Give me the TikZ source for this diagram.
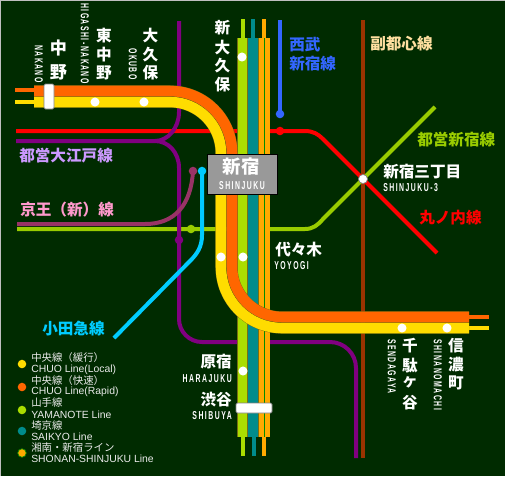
\documentclass[tikz,border=0pt]{standalone}
\usepackage{fontspec}
\newfontfamily\cjk{Noto Sans CJK JP}
\newfontfamily\latin[FakeStretch=.6,LetterSpace=13]{Liberation Sans}
\newfontfamily\legendlatin{Liberation Sans}
\definecolor{bgcolor}{RGB}{0,43,0}
\definecolor{chuolocal}{RGB}{255,220,0}
\definecolor{chuorapid}{RGB}{255,102,0}
\definecolor{yamanote}{RGB}{170,221,0}
\definecolor{saikyo}{RGB}{0,140,140}
\definecolor{shonan}{RGB}{255,170,0}
\definecolor{shonanmid}{RGB}{0,140,0}
\definecolor{trunkedge}{RGB}{120,110,20}
\definecolor{oedo}{RGB}{128,0,128}
\definecolor{fukutoshin}{RGB}{153,51,0}
\definecolor{seibu}{RGB}{51,102,255}
\definecolor{keio}{RGB}{153,51,102}
\definecolor{odakyu}{RGB}{0,204,255}
\definecolor{toeishinjuku}{RGB}{153,204,0}
\definecolor{fukutoshintext}{RGB}{255,224,160}
\definecolor{oedotext}{RGB}{204,153,255}
\definecolor{keiotext}{RGB}{255,153,204}
\tikzset{
  trunk/.style={
    draw=#1,
    line width=7.9pt,
    preaction={draw=trunkedge, line width=8.4pt}
  },
  stub/.style={
    draw=#1,
    line width=3pt
  },
  thinline/.style={
    draw=#1,
    line width=3pt
  },
  linedot/.style={
    circle,
    fill=#1,
    inner sep=0pt,
    minimum size=6.4pt
  },
  station/.style={
    circle,
    fill=white,
    inner sep=0pt,
    minimum size=6.8pt
  },
  jplabel/.style={
    font=\cjk\bfseries\fontsize{11.7}{14}\selectfont,
    text=#1,
    inner sep=0pt
  },
  jplabel/.default=white,
  enlabel/.style={
    font=\latin\bfseries\fontsize{8.6}{10}\selectfont,
    text=white,
    inner sep=0pt,
    text height=6.2pt,
    text depth=0pt
  },
  legendjp/.style={
    font=\cjk\fontsize{7.8}{9}\selectfont,
    text=white!92!black,
    inner sep=0pt,
    anchor=west
  },
  legenden/.style={
    font=\legendlatin\fontsize{7.8}{9}\selectfont,
    text=white!92!black,
    inner sep=0pt,
    anchor=west
  },
  stationbar/.style={
    rectangle,
    fill=white,
    draw=gray,
    line width=0.6pt,
    rounded corners=1pt,
    inner sep=0pt
  }
}
\begin{document}
\begin{tikzpicture}[x=0.75pt, y=-0.75pt]
    \useasboundingbox (0,0) rectangle (505,476);
    \fill[bgcolor] (0,0) rectangle (505,476);
    \fill[gray!50] (0,0) rectangle (505,1);
    \fill[gray!50] (0,0) rectangle (1,476);

    % thin lines under the trunks
    \draw[thinline=fukutoshin] (363,20) -- (363,458);
    \draw[thinline=red] (16,131) -- (305,131) .. controls (313,131) and (318,134) .. (323,139) -- (437,253);
    \draw[thinline=toeishinjuku] (17,229) -- (305,229) .. controls (313,229) and (318,225) .. (323,219) -- (435,107);
    \draw[thinline=oedo] (179,21) -- (179,112) .. controls (179,128) and (168,141) .. (155,141) -- (16,141);
    \draw[thinline=oedo] (155,141) .. controls (168,141) and (179,152) .. (179,168) -- (179,319)
      arc[start angle=180, end angle=90, radius=23] -- (330,342)
      arc[start angle=-90, end angle=0, radius=26] -- (356,458);
    \draw[thinline=keio] (17,224) -- (145,224) .. controls (175,224) and (191,205) .. (193,171);
    \draw[thinline=odakyu] (202,171) -- (202,235) .. controls (202,247) and (197,254) .. (190,261) -- (114,338);
    \draw[thinline=seibu] (280,20) -- (280,114);

    % vertical trunks
    \draw[stub=yamanote] (242.5,19) -- (242.5,38);
    \draw[stub=saikyo] (253,19) -- (253,38);
    \draw[stub=shonan] (264,19) -- (264,38);
    \draw[stub=yamanote] (243,437) -- (243,456);
    \draw[stub=saikyo] (254,437) -- (254,456);
    \draw[stub=shonan] (264,437) -- (264,456);
    \draw[trunk=yamanote] (243,38) -- (243,437);
    \draw[trunk=saikyo] (253,38) -- (253,437);
    \draw[trunk=shonan] (264.5,38) -- (264.5,437);
    \draw[shonanmid, line width=1.2pt] (264.5,38) -- (264.5,437);

    % chuo lines
    \draw[stub=chuorapid] (15,90) -- (34,90);
    \draw[stub=chuolocal] (15,102) -- (34,102);
    \draw[stub=chuorapid] (469,317) -- (489,317);
    \draw[stub=chuolocal] (469,328) -- (489,328);
    \draw[trunk=chuolocal] (34,102) -- (170,102) arc[start angle=-90, end angle=0, radius=51]
      -- (221,267) arc[start angle=180, end angle=90, radius=61] -- (469,328);
    \draw[trunk=chuorapid] (34,91) -- (170,91) arc[start angle=-90, end angle=0, radius=62]
      -- (232,267) arc[start angle=180, end angle=90, radius=50] -- (469,317);

    % dots and bars
    \node[linedot=seibu] (seibudot) at (280,114) {};
    \node[linedot=red] (reddot) at (280,131) {};
    \node[linedot=toeishinjuku] (toeidot) at (191,229) {};
    \node[linedot=oedo] (oedodot) at (179,240) {};
    \node[linedot=keio] (keiodot) at (193,171) {};
    \node[linedot=odakyu] (odakyudot) at (202,171) {};
    \foreach \x/\y [count=\i] in {242/57, 95/102, 144/102, 221/257, 243/257, 243/371, 402/328, 447/328} {
      \node[station] (st\i) at (\x,\y) {};
    }
    \node[station, draw=gray, line width=0.5pt] (sanchome) at (363,179) {};
    \node[stationbar, minimum width=7.5pt, minimum height=18.75pt] (nakanobar) at (49,96.5) {};
    \node[stationbar, minimum width=27pt, minimum height=7.5pt] (shibuyabar) at (254,408) {};

    % shinjuku box
    \node[rectangle, fill=gray!80, draw=black, line width=0.75pt, minimum width=52.5pt, minimum height=30.5pt] (shinjukubox) at (242.5,174.5) {};
    \node[jplabel, font=\cjk\bfseries\fontsize{13.8}{16}\selectfont] (shinjukujp) at (241,167) {新宿};
    \node[enlabel] (shinjukuen) at (242,185) {SHINJUKU};

    % vertical station names
    \foreach \ch/\y [count=\i] in {中/48, 野/72} {
      \node[jplabel, font=\cjk\bfseries\fontsize{12.8}{15}\selectfont] (nakano\i) at (58.5,\y) {\ch};
    }
    \foreach \ch/\y [count=\i] in {東/36, 中/55, 野/73} {
      \node[jplabel] (higashi\i) at (104,\y) {\ch};
    }
    \foreach \ch/\y [count=\i] in {大/36, 久/55, 保/73} {
      \node[jplabel] (okubo\i) at (150.5,\y) {\ch};
    }
    \foreach \ch/\y [count=\i] in {新/28, 大/48, 久/66, 保/85} {
      \node[jplabel] (shinokubo\i) at (222.5,\y) {\ch};
    }
    \foreach \ch/\y [count=\i] in {千/346, 駄/366, ヶ/382, 谷/403} {
      \node[jplabel] (sendagaya\i) at (410,\y) {\ch};
    }
    \foreach \ch/\y [count=\i] in {信/346, 濃/365, 町/383} {
      \node[jplabel] (shinano\i) at (456,\y) {\ch};
    }
    \node[enlabel, rotate=-90, anchor=east] (nakanoen) at (39,83) {NAKANO};
    \node[enlabel, rotate=-90, anchor=east] (higashien) at (85,84) {HIGASHI-NAKANO};
    \node[enlabel, rotate=-90, anchor=east] (okuboen) at (133,80) {OKUBO};
    \node[enlabel, rotate=-90, anchor=west] (sendagayaen) at (392,339) {SENDAGAYA};
    \node[enlabel, rotate=-90, anchor=west] (shinanoen) at (438,339) {SHINANOMACHI};

    % horizontal station names
    \node[jplabel, anchor=west] (sanchomejp) at (383,171.5) {新宿三丁目};
    \node[enlabel, anchor=west] (sanchomeen) at (383,187) {SHINJUKU-3};
    \node[jplabel, anchor=west] (yoyogijp) at (275,250) {代々木};
    \node[enlabel, anchor=west] (yoyogien) at (274,265) {YOYOGI};
    \node[jplabel, anchor=east] (harajukujp) at (232,362) {原宿};
    \node[enlabel, anchor=east] (harajukuen) at (232,378) {HARAJUKU};
    \node[jplabel, anchor=east] (shibuyajp) at (232,400) {渋谷};
    \node[enlabel, anchor=east] (shibuyaen) at (232,415) {SHIBUYA};

    % line names
    \node[jplabel=seibu, anchor=west] (seibu1) at (289,44.5) {西武};
    \node[jplabel=seibu, anchor=west] (seibu2) at (289,64) {新宿線};
    \node[jplabel=fukutoshintext, anchor=west] (fukutoshinname) at (370,44) {副都心線};
    \node[jplabel=toeishinjuku, anchor=west] (toeiname) at (417,140) {都営新宿線};
    \node[jplabel=red, anchor=west] (marunouchiname) at (419,218) {丸ノ内線};
    \node[jplabel=oedotext, anchor=west] (oedoname) at (19,156) {都営大江戸線};
    \node[jplabel=keiotext, anchor=west] (keioname) at (20,210) {京王（新）線};
    \node[jplabel=odakyu, anchor=west] (odakyuname) at (42,328.5) {小田急線};

    % legend
    \foreach \col/\y [count=\i] in {chuolocal/364, chuorapid/387, yamanote/410, saikyo/431} {
      \node[linedot=\col] (key\i) at (22,\y) {};
    }
    \node[linedot=shonan, draw=shonanmid, line width=0.5pt] (key5) at (22,453) {};
    \node[legendjp] (jp1) at (31,358) {中央線（緩行）};
    \node[legenden] (en1) at (31,370) {CHUO Line(Local)};
    \node[legendjp] (jp2) at (31,381) {中央線（快速）};
    \node[legenden] (en2) at (31,392) {CHUO Line(Rapid)};
    \node[legendjp] (jp3) at (31,403) {山手線};
    \node[legenden] (en3) at (31,415) {YAMANOTE Line};
    \node[legendjp] (jp4) at (31,426) {埼京線};
    \node[legenden] (en4) at (31,437) {SAIKYO Line};
    \node[legendjp] (jp5) at (31,448) {湘南・新宿ライン};
    \node[legenden] (en5) at (31,459) {SHONAN-SHINJUKU Line};
\end{tikzpicture}
\end{document}
